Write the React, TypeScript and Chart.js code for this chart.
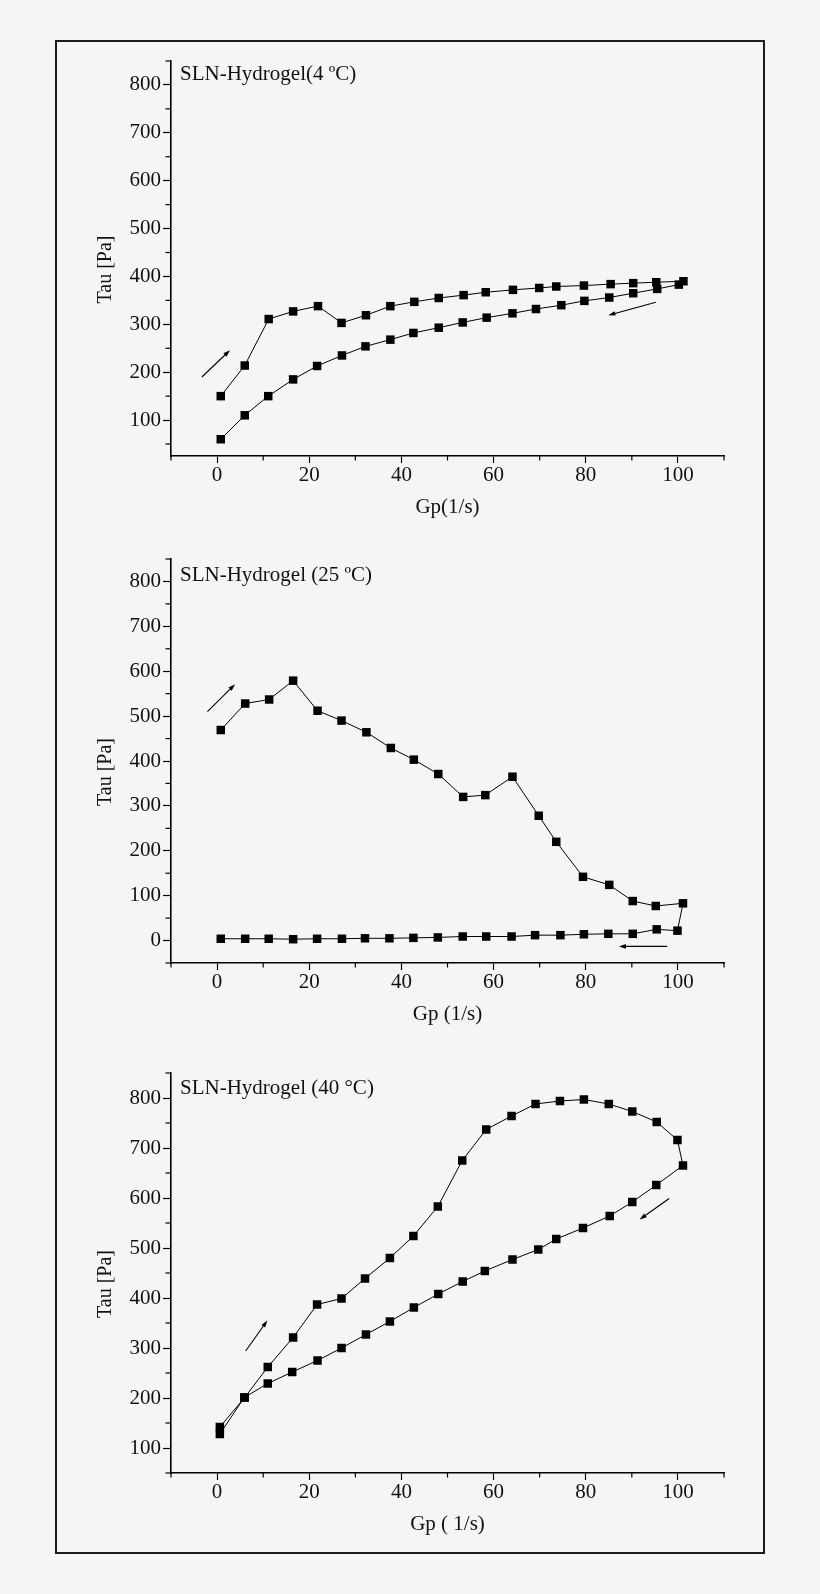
import React, { useEffect, useRef } from 'react';
import { Chart, registerables } from 'chart.js';

Chart.register(...registerables);

// SLN-Hydrogel 4 ºC
const gp4Up = [0.8, 6.0, 11.2, 16.5, 21.9, 27.0, 32.3, 37.6, 42.8, 48.1, 53.5, 58.3, 64.2, 69.9, 73.6, 79.6, 85.4, 90.3, 95.3, 101.2];
const tau4Up = [150, 214, 311, 327, 338, 303, 319, 338, 347, 355, 361, 367, 372, 376, 379, 381, 384, 386, 388, 390];
const gp4Down = [100.2, 95.5, 90.3, 85.1, 79.7, 74.7, 69.2, 64.1, 58.5, 53.3, 48.1, 42.6, 37.6, 32.2, 27.1, 21.7, 16.5, 11.1, 6.0, 0.8];
const tau4Down = [383, 374, 365, 356, 349, 340, 332, 323, 314, 304, 293, 282, 268, 254, 235, 213, 185, 150, 110, 60];

// SLN-Hydrogel 25 ºC
const gp25Up = [0.8, 6.1, 11.3, 16.5, 21.8, 27.0, 32.4, 37.7, 42.7, 48.0, 53.4, 58.2, 64.1, 69.8, 73.6, 79.4, 85.1, 90.2, 95.2, 101.1];
const tau25Up = [469, 528, 537, 579, 512, 490, 464, 429, 403, 371, 320, 324, 365, 278, 220, 142, 124, 88, 77, 83];
const gp25Down = [99.9, 95.4, 90.2, 84.9, 79.6, 74.5, 69.0, 63.9, 58.4, 53.3, 47.9, 42.6, 37.4, 32.1, 27.1, 21.7, 16.5, 11.2, 6.1, 0.8];
const tau25Down = [22, 25, 15, 15, 14, 12, 12, 9, 9, 9, 7, 6, 5, 5, 4, 4, 3, 4, 4, 4];

// SLN-Hydrogel 40 °C
const gp40Up = [0.6, 6.0, 11.0, 16.5, 21.7, 27.0, 32.1, 37.5, 42.6, 47.9, 53.2, 58.4, 63.9, 69.1, 74.4, 79.6, 85.0, 90.1, 95.4, 99.9];
const tau40Up = [142, 201, 262, 321, 387, 399, 439, 480, 524, 583, 675, 737, 764, 788, 794, 797, 788, 773, 752, 716];
const gp40Down = [101.1, 95.3, 90.1, 85.2, 79.4, 73.6, 69.7, 64.1, 58.1, 53.3, 48.0, 42.7, 37.5, 32.3, 27.0, 21.8, 16.3, 11.0, 5.9, 0.6];
const tau40Down = [665, 626, 592, 564, 540, 518, 497, 477, 454, 433, 408, 381, 353, 327, 300, 275, 252, 229, 201, 128];

// axis ticks
const xMajor = [0, 20, 40, 60, 80, 100];
const xMinor = [-10, 10, 30, 50, 70, 90, 110];
const yMajor = [100, 200, 300, 400, 500, 600, 700, 800];
const yMajor25 = [0, 100, 200, 300, 400, 500, 600, 700, 800];
const yMinor = [50, 150, 250, 350, 450, 550, 650, 750, 850];
const yMinor25 = [-50, 50, 150, 250, 350, 450, 550, 650, 750, 850];

// direction arrows [fromGp, fromTau, toGp, toTau]
const arrows4 = [[-3.3, 190, 2.8, 246], [95.2, 346, 84.9, 319]];
const arrows25 = [[-2.1, 510, 3.9, 571], [97.7, -13, 87.2, -13]];
const arrows40 = [[6.2, 294, 10.9, 355], [98.1, 599, 91.7, 557]];

const FONT = '"Liberation Serif", "Times New Roman", serif';

interface Panel {
  title: string;
  xTitle: string;
  gpUp: number[];
  tauUp: number[];
  gpDown: number[];
  tauDown: number[];
  yMin: number;
  yMax: number;
  yTicks: number[];
  yMinorTicks: number[];
  arrows: number[][];
  areaTop: number;
  areaHeight: number;
  titleDy: number;
}

const panels: Panel[] = [
  {
    title: 'SLN-Hydrogel(4 ºC)', xTitle: 'Gp(1/s)',
    gpUp: gp4Up, tauUp: tau4Up, gpDown: gp4Down, tauDown: tau4Down,
    yMin: 25, yMax: 850, yTicks: yMajor, yMinorTicks: yMinor, arrows: arrows4,
    areaTop: 61, areaHeight: 395, titleDy: 13,
  },
  {
    title: 'SLN-Hydrogel (25 ºC)', xTitle: 'Gp (1/s)',
    gpUp: gp25Up, tauUp: tau25Up, gpDown: gp25Down, tauDown: tau25Down,
    yMin: -50, yMax: 850, yTicks: yMajor25, yMinorTicks: yMinor25, arrows: arrows25,
    areaTop: 559, areaHeight: 404, titleDy: 16,
  },
  {
    title: 'SLN-Hydrogel (40 °C)', xTitle: 'Gp ( 1/s)',
    gpUp: gp40Up, tauUp: tau40Up, gpDown: gp40Down, tauDown: tau40Down,
    yMin: 50, yMax: 850, yTicks: yMajor, yMinorTicks: yMinor, arrows: arrows40,
    areaTop: 1073, areaHeight: 400, titleDy: 15,
  },
];

const CANVAS_LEFT = 60;
const CANVAS_W = 700;
const PAD_TOP = 30;
const Y_AXIS_W = 111;
const X_AXIS_H = 80;
const PAD_RIGHT = 36;

const decorPlugin = (p: Panel) => ({
  id: 'decor',
  afterDraw(chart: any) {
    const { ctx, chartArea: a, scales } = chart;
    const x = scales.x;
    const y = scales.y;
    ctx.save();
    ctx.strokeStyle = '#000';
    ctx.fillStyle = '#000';
    ctx.lineWidth = 1.2;
    const line = (x0: number, y0: number, x1: number, y1: number) => {
      ctx.beginPath();
      ctx.moveTo(x0, y0);
      ctx.lineTo(x1, y1);
      ctx.stroke();
    };
    // minor ticks
    xMinor.forEach((v) => {
      const px = x.getPixelForValue(v);
      line(px, a.bottom, px, a.bottom + 4.5);
    });
    p.yMinorTicks.forEach((v) => {
      const py = y.getPixelForValue(v);
      line(a.left - 5.5, py, a.left, py);
    });
    // arrows
    ctx.lineWidth = 1.1;
    p.arrows.forEach(([g0, t0, g1, t1]) => {
      const x0 = x.getPixelForValue(g0);
      const y0 = y.getPixelForValue(t0);
      const x1 = x.getPixelForValue(g1);
      const y1 = y.getPixelForValue(t1);
      const ang = Math.atan2(y1 - y0, x1 - x0);
      line(x0, y0, x1 - 3 * Math.cos(ang), y1 - 3 * Math.sin(ang));
      const L = 7;
      const W = 2.3;
      const bx = x1 - L * Math.cos(ang);
      const by = y1 - L * Math.sin(ang);
      ctx.beginPath();
      ctx.moveTo(x1, y1);
      ctx.lineTo(bx - W * Math.sin(ang), by + W * Math.cos(ang));
      ctx.lineTo(bx + W * Math.sin(ang), by - W * Math.cos(ang));
      ctx.closePath();
      ctx.fill();
    });
    // texts
    ctx.fillStyle = '#111';
    ctx.textBaseline = 'middle';
    ctx.textAlign = 'left';
    ctx.font = `21px ${FONT}`;
    ctx.fillText(p.title, a.left + 9, a.top + p.titleDy);
    ctx.textAlign = 'center';
    ctx.fillText(p.xTitle, (a.left + a.right) / 2, a.bottom + 51);
    ctx.font = `20px ${FONT}`;
    ctx.translate(a.left - 65, (a.top + a.bottom) / 2 + 11);
    ctx.rotate(-Math.PI / 2);
    ctx.fillText('Tau [Pa]', 0, 0);
    ctx.restore();
  },
});

const FlowCurve = ({ p }: { p: Panel }) => {
  const ref = useRef<HTMLCanvasElement>(null);
  const height = PAD_TOP + p.areaHeight + X_AXIS_H;

  useEffect(() => {
    if (!ref.current) return;
    const points = [
      ...p.gpUp.map((g, i) => ({ x: g, y: p.tauUp[i] })),
      ...p.gpDown.map((g, i) => ({ x: g, y: p.tauDown[i] })),
    ];
    const tickFont = { family: FONT, size: 21 };
    const chart = new Chart(ref.current, {
      type: 'scatter',
      data: {
        datasets: [
          {
            data: points,
            showLine: true,
            borderColor: '#000',
            borderWidth: 1,
            pointStyle: 'rect',
            pointRadius: 6,
            pointBackgroundColor: '#000',
            pointBorderWidth: 0,
            tension: 0,
          },
        ],
      },
      options: {
        animation: false,
        responsive: false,
        layout: { padding: { left: 0, right: PAD_RIGHT, top: PAD_TOP, bottom: 0 } },
        plugins: {
          legend: { display: false },
          tooltip: { enabled: false },
        },
        scales: {
          x: {
            type: 'linear',
            min: -10,
            max: 110,
            afterBuildTicks: (s: any) => {
              s.ticks = xMajor.map((v) => ({ value: v }));
            },
            afterFit: (s: any) => {
              s.height = X_AXIS_H;
            },
            grid: { drawOnChartArea: false, tickLength: 7, tickColor: '#000', tickWidth: 1.2 },
            border: { color: '#000', width: 1.6 },
            ticks: { font: tickFont, color: '#111', padding: 0, maxRotation: 0, autoSkip: false },
          },
          y: {
            type: 'linear',
            min: p.yMin,
            max: p.yMax,
            afterBuildTicks: (s: any) => {
              s.ticks = p.yTicks.map((v) => ({ value: v }));
            },
            afterFit: (s: any) => {
              s.width = Y_AXIS_W;
            },
            grid: { drawOnChartArea: false, tickLength: 8, tickColor: '#000', tickWidth: 1.2 },
            border: { color: '#000', width: 1.6 },
            ticks: { font: tickFont, color: '#111', padding: 2, autoSkip: false },
          },
        },
      },
      plugins: [decorPlugin(p)],
    });
    return () => chart.destroy();
  }, [p]);

  return (
    <canvas
      ref={ref}
      width={CANVAS_W}
      height={height}
      style={{
        position: 'absolute',
        left: CANVAS_LEFT,
        top: p.areaTop - PAD_TOP,
        width: CANVAS_W,
        height,
      }}
    />
  );
};

const App = () => {
  return (
    <div
      style={{
        position: 'absolute',
        left: 0,
        top: 0,
        width: 820,
        height: 1594,
        background: '#f5f5f5',
        overflow: 'hidden',
      }}
    >
      <div
        style={{
          position: 'absolute',
          left: 55,
          top: 40,
          width: 710,
          height: 1514,
          boxSizing: 'border-box',
          border: '2px solid #1a1a1a',
        }}
      />
      {panels.map((p) => (
        <FlowCurve key={p.title} p={p} />
      ))}
    </div>
  );
};

export default App;
